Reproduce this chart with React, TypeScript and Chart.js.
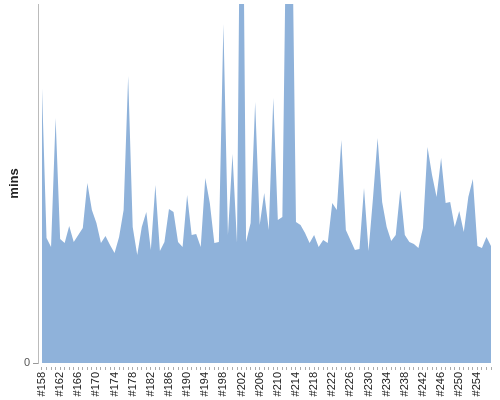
import React, { useEffect, useRef } from "react";
import { Chart, registerables } from "chart.js";

Chart.register(...registerables);

const FIRST_BUILD = 158;
const mins: number[] = [
  27.5, 12.5, 11.6, 24.5, 12.4, 12.0, 13.7, 12.1, 12.8, 13.5,
  18.0, 15.3, 14.0, 12.0, 12.7, 11.8, 11.0, 12.6, 15.3, 28.7,
  13.6, 10.8, 13.6, 15.1, 11.3, 17.8, 11.2, 12.1, 15.4, 15.1,
  12.1, 11.6, 16.8, 12.8, 12.9, 11.6, 18.5, 16.0, 12.0, 12.1,
  33.9, 12.8, 20.9, 12.0, 65.0, 12.1, 14.0, 26.1, 13.8, 17.0,
  13.3, 26.5, 14.3, 14.6, 50.0, 50.0, 14.1, 13.8, 13.0, 12.0,
  12.8, 11.6, 12.3, 12.0, 16.0, 15.3, 22.3, 13.3, 12.3, 11.3,
  11.4, 17.5, 11.2, 16.6, 22.5, 16.1, 13.6, 12.2, 12.8, 17.3,
  12.8, 12.1, 11.9, 11.5, 13.5, 21.6, 18.8, 16.6, 20.5, 16.0,
  16.1, 13.6, 15.2, 13.1, 16.6, 18.4, 11.7, 11.5, 12.6, 11.7,
];
const builds: string[] = mins.map((_, i) => "#" + (FIRST_BUILD + i));
const yTicks: number[] = [0];
const Y_MAX = 35.9;

export default function App() {
  const ref = useRef<HTMLCanvasElement | null>(null);
  useEffect(() => {
    document.body.style.margin = "0";
    const ctx = ref.current!.getContext("2d")!;
    Chart.defaults.font.family = "'Liberation Sans', Arial, sans-serif";
    const chart = new Chart(ctx, {
      type: "line",
      data: {
        datasets: [
          {
            data: mins.map((v, i) => ({ x: i, y: v })),
            fill: "origin",
            backgroundColor: "rgb(143,178,218)",
            borderWidth: 0,
            borderColor: "rgba(0,0,0,0)",
            pointRadius: 0,
            tension: 0,
          },
        ],
      },
      options: {
        animation: false,
        responsive: false,
        layout: { padding: { top: 4, right: 9, left: 0, bottom: 0 } },
        plugins: { legend: { display: false }, tooltip: { enabled: false } },
        scales: {
          x: {
            type: "linear",
            min: -0.88,
            max: builds.length - 1,
            afterFit: (s: any) => {
              s.height = 37;
              s.paddingLeft = 0;
              s.paddingRight = 0;
            },
            border: { display: false },
            grid: {
              drawOnChartArea: false,
              drawTicks: true,
              tickLength: 7,
              tickColor: "#aaa",
              tickBorderDash: [0, 4, 3],
            } as any,
            ticks: {
              stepSize: 1,
              autoSkip: false,
              includeBounds: false,
              minRotation: 90,
              maxRotation: 90,
              padding: 2,
              color: "#222",
              font: { size: 11 },
              callback: (v: any) => {
                const i = Math.round(Number(v));
                if (Math.abs(Number(v) - i) > 1e-6) return "";
                return i % 4 === 0 && builds[i] ? builds[i] : "";
              },
            },
          },
          y: {
            min: 0,
            max: Y_MAX,
            afterFit: (s: any) => {
              s.width = 38;
              s.paddingTop = 0;
              s.paddingBottom = 0;
            },
            afterBuildTicks: (s: any) => { s.ticks = yTicks.map((v) => ({ value: v })); },
            border: { display: true, color: "#bbb", width: 1 },
            grid: { drawOnChartArea: false, drawTicks: true, tickLength: 5, tickColor: "#999" },
            ticks: { color: "#555", font: { size: 11 }, padding: 3 },
            title: {
              display: true,
              text: "mins",
              color: "#222",
              font: { size: 13, weight: "bold" },
              padding: { top: 7, bottom: 0 },
            },
          },
        },
      },
    });
    return () => chart.destroy();
  }, []);
  return (
    <div style={{ position: "absolute", left: 0, top: 0, width: 500, height: 400 }}>
      <canvas ref={ref} width={500} height={400} />
    </div>
  );
}
